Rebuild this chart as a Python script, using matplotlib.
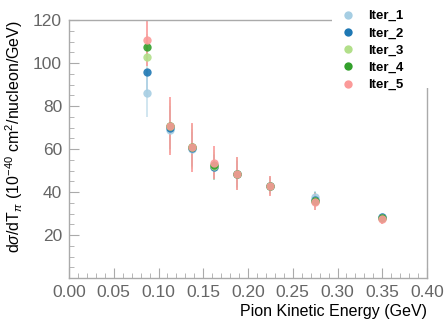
import matplotlib
matplotlib.use("Agg")
import matplotlib.pyplot as plt
from matplotlib.ticker import MultipleLocator
from matplotlib.lines import Line2D
from matplotlib.patches import Rectangle

plt.rcParams["font.family"] = ["Liberation Sans", "DejaVu Sans"]
plt.rcParams["mathtext.fontset"] = "custom"
plt.rcParams["mathtext.rm"] = "Liberation Sans"
plt.rcParams["mathtext.it"] = "Liberation Sans:italic"

# Datos
energia = [0.0875, 0.1125, 0.1375, 0.1625, 0.1875, 0.225, 0.275, 0.35]

iter_1 = [86.0, 69.0, 60.0, 51.5, 48.5, 43.0, 37.5, 28.2]
iter_2 = [96.0, 70.0, 60.5, 51.5, 48.5, 43.0, 36.5, 28.2]
iter_3 = [103.0, 70.5, 61.0, 52.0, 48.6, 43.0, 36.0, 28.0]
iter_4 = [107.5, 70.5, 61.0, 52.5, 48.6, 43.0, 35.8, 27.8]
iter_5 = [110.8, 70.5, 60.7, 53.7, 48.6, 42.8, 35.5, 27.3]

err_1 = [11.0, 9.0, 8.0, 5.5, 6.0, 3.5, 3.0, 1.5]
err_2 = [9.0, 10.0, 9.0, 6.0, 6.5, 4.0, 3.5, 1.5]
err_3 = [7.0, 11.0, 10.0, 6.5, 7.0, 4.0, 3.5, 2.0]
err_4 = [6.0, 12.5, 10.5, 7.0, 7.5, 4.5, 4.0, 2.0]
err_5 = [12.0, 13.5, 11.5, 7.5, 7.7, 4.5, 4.0, 2.0]

series = [iter_1, iter_2, iter_3, iter_4, iter_5]
errores = [err_1, err_2, err_3, err_4, err_5]
etiquetas = ["Iter_1", "Iter_2", "Iter_3", "Iter_4", "Iter_5"]
colores = ["#a6cee3", "#1f78b4", "#b2df8a", "#33a02c", "#fb9a99"]
alfas = [0.6, 0.2, 0.2, 0.2, 1.0]

fig = plt.figure(figsize=(4.48, 3.24), dpi=100)
ax = fig.add_axes([69 / 448, 1 - 278 / 324, 358 / 448, 258 / 324])

# primero las barras de error (tenues), despues los puntos
for y, e, c, a in zip(series, errores, colores, alfas):
    ax.errorbar(energia, y, yerr=e, fmt="none", ecolor=c, elinewidth=1.2,
                capsize=0, alpha=a)
for y, c in zip(series, colores):
    ax.plot(energia, y, "o", color=c, ms=6, mew=0, alpha=0.9)

ax.set_xlim(0, 0.4)
ax.set_ylim(0, 120)
ax.xaxis.set_major_locator(MultipleLocator(0.05))
ax.xaxis.set_minor_locator(MultipleLocator(0.01))
ax.set_yticks([20, 40, 60, 80, 100, 120])
ax.yaxis.set_minor_locator(MultipleLocator(5))
ax.set_xticklabels(["%.2f" % t for t in ax.get_xticks()])

gris = "#aaaaaa"
for s in ax.spines.values():
    s.set_color(gris)
    s.set_linewidth(1.0)
ax.tick_params(which="both", direction="in", color=gris, labelcolor="#666666",
               top=False, right=False)
ax.tick_params(which="major", length=7, labelsize=12.5, pad=5)
ax.tick_params(which="minor", length=3.5)

ax.set_xlabel("Pion Kinetic Energy (GeV)", fontsize=11.5, loc="right", labelpad=3)
ax.set_ylabel(r"d$\sigma$/dT$_{\pi}$ (10$^{-40}$ cm$^{2}$/nucleon/GeV)",
              fontsize=11.5, loc="top", labelpad=6)

# caja blanca de la leyenda (tapa el marco arriba a la derecha)
fig.patches.append(Rectangle((332 / 448, 1 - 88 / 324), 116 / 448, 88 / 324,
                             transform=fig.transFigure, facecolor="white",
                             edgecolor="none", zorder=5))

manejadores = [Line2D([], [], ls="none", marker="o", ms=6, mew=0, color=c)
               for c in colores]
leg = fig.legend(manejadores, etiquetas, loc="upper left",
                 bbox_to_anchor=(332 / 448, 1.0), frameon=False,
                 prop={"weight": "bold", "size": 9.5}, handletextpad=1.0,
                 labelspacing=0.38, borderpad=0.25, handlelength=1.0)
leg.set_zorder(6)

fig.savefig("out.png", dpi=100)
